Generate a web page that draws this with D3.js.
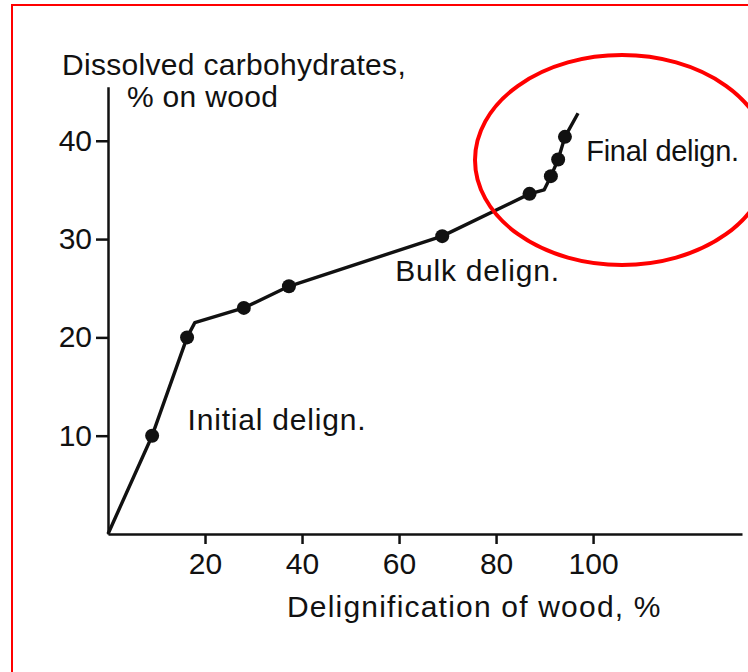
<!DOCTYPE html>
<html>
<head>
<meta charset="utf-8">
<script src="https://cdn.jsdelivr.net/npm/d3@7"></script>
<style>
  body { margin: 0; background: #fff; }
  svg text { font-family: "Liberation Sans", Arial, sans-serif; fill: #111; }
</style>
</head>
<body>
<div class="chart-wrapper"></div>
<script>
// data
const dotX = [9.1, 16.3, 28.0, 37.3, 68.9, 86.9, 91.3, 92.8, 94.2];
const dotY = [10.0, 20.0, 23.0, 25.2, 30.3, 34.6, 36.4, 38.1, 40.4];

// hand drawn curve (runs through the dots, with two kinks)
const lineX = [0, 9.1, 16.3, 17.9, 28.0, 37.3, 68.9, 86.9, 89.9, 91.3, 92.8, 94.2, 96.9];
const lineY = [0, 10.0, 20.0, 21.5, 23.0, 25.2, 30.3, 34.6, 35.0, 36.4, 38.1, 40.4, 42.8];

const xTicks = [20, 40, 60, 80, 100];
const yTicks = [10, 20, 30, 40];
const xMax = 130.7;
const yMax = 45.5;

const phaseLabels = ["Initial delign.", "Bulk delign.", "Final delign."];
const phaseX = [16.4, 59.2, 98.6];
const phaseY = [10.6, 25.7, 37.9];

const yTitle = ["Dissolved carbohydrates,", "% on wood"];
const xTitle = "Delignification of wood, %";

// layout
const W = 748, H = 672;
const x0 = 108, xEnd = 742;
const y0 = 534, yTop = 86.7;
const fontSize = 30;

const svg = d3.select(".chart-wrapper").append("svg")
  .attr("width", W)
  .attr("height", H);

svg.append("rect").attr("width", W).attr("height", H).attr("fill", "#fff");

const x = d3.scaleLinear().domain([0, xMax]).range([x0, xEnd]);
const y = d3.scaleLinear().domain([0, yMax]).range([y0, yTop]);

// axes
const gx = svg.append("g")
  .attr("transform", `translate(0,${y0})`)
  .call(d3.axisBottom(x).tickValues(xTicks).tickSize(10).tickSizeOuter(0).tickPadding(9));

const gy = svg.append("g")
  .attr("transform", `translate(${x0},0)`)
  .call(d3.axisLeft(y).tickValues(yTicks).tickSize(12).tickSizeOuter(0).tickPadding(4));

[gx, gy].forEach(function (g) {
  g.select(".domain").attr("stroke", "#111").attr("stroke-width", 2.5);
  g.selectAll(".tick line").attr("stroke", "#111").attr("stroke-width", 2.5);
  g.selectAll(".tick text")
    .style("font-family", "'Liberation Sans', Arial, sans-serif")
    .style("font-size", fontSize + "px")
    .attr("fill", "#111");
});

// axis titles
svg.append("text")
  .attr("x", 62).attr("y", 75)
  .style("font-size", fontSize + "px")
  .style("letter-spacing", "0.3px")
  .text(yTitle[0]);

svg.append("text")
  .attr("x", 127).attr("y", 107)
  .style("font-size", fontSize + "px")
  .style("letter-spacing", "0.3px")
  .text(yTitle[1]);

svg.append("text")
  .attr("x", 287).attr("y", 617)
  .style("font-size", fontSize + "px")
  .style("letter-spacing", "1.2px")
  .text(xTitle);

// curve
const line = d3.line()
  .x(function (d) { return x(d[0]); })
  .y(function (d) { return y(d[1]); });

svg.append("path")
  .datum(d3.zip(lineX, lineY))
  .attr("d", line)
  .attr("fill", "none")
  .attr("stroke", "#111")
  .attr("stroke-width", 3.4)
  .attr("stroke-linejoin", "round");

svg.append("g").selectAll("circle")
  .data(d3.zip(dotX, dotY))
  .enter().append("circle")
  .attr("cx", function (d) { return x(d[0]); })
  .attr("cy", function (d) { return y(d[1]); })
  .attr("r", 7)
  .attr("fill", "#111");

// phase labels
svg.append("g").selectAll("text")
  .data(phaseLabels)
  .enter().append("text")
  .attr("x", function (d, i) { return x(phaseX[i]); })
  .attr("y", function (d, i) { return y(phaseY[i]); })
  .style("font-size", function (d, i) { return (i === 2 ? 29 : fontSize) + "px"; })
  .style("letter-spacing", function (d, i) { return i === 2 ? "-0.3px" : "0.8px"; })
  .text(function (d) { return d; });

// red highlight ellipse + frame
svg.append("ellipse")
  .attr("cx", 622).attr("cy", 160)
  .attr("rx", 147).attr("ry", 105)
  .attr("fill", "none")
  .attr("stroke", "#f00")
  .attr("stroke-width", 4);

svg.append("rect")
  .attr("x", 12).attr("y", 5)
  .attr("width", 760).attr("height", 700)
  .attr("fill", "none")
  .attr("stroke", "#f00")
  .attr("stroke-width", 2);
</script>
</body>
</html>
